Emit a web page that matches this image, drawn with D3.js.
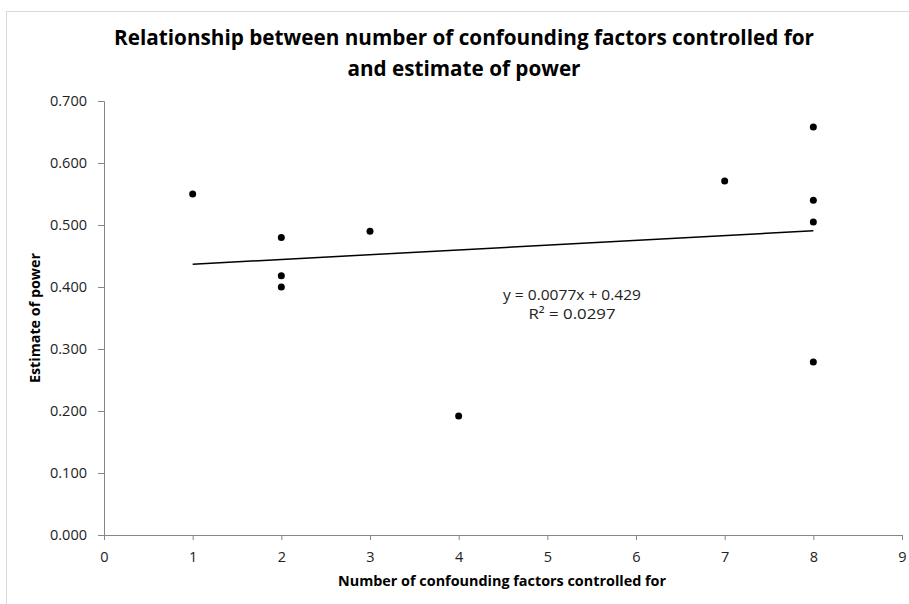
<!DOCTYPE html>
<html>
<head>
<meta charset="utf-8">
<script src="https://cdn.jsdelivr.net/npm/d3@7"></script>
<style>
  body { margin: 0; background: #fff; }
  text { font-family: "Open Sans", "Liberation Sans", sans-serif; }
</style>
</head>
<body>
<script>
// chart values
const factors = [1, 2, 2, 2, 3, 4, 7, 8, 8, 8, 8]
const power = [0.550, 0.480, 0.418, 0.400, 0.490, 0.192, 0.571, 0.658, 0.540, 0.505, 0.279]
const xTicks = [0, 1, 2, 3, 4, 5, 6, 7, 8, 9]
const yTicks = [0, 0.1, 0.2, 0.3, 0.4, 0.5, 0.6, 0.7]
const trend = { slope: 0.0077, intercept: 0.429 }
const trendLabel = ["y = 0.0077x + 0.429", "R² = 0.0297"]
const titleLines = ["Relationship between number of confounding factors controlled for", "and estimate of power"]

const width = 909, height = 604
const plotLeft = 104, plotRight = 902, plotTop = 101, plotBottom = 535

const xScale = d3.scaleLinear().domain([0, 9]).range([plotLeft, plotRight])
const yScale = d3.scaleLinear().domain([0, 0.7]).range([plotBottom, plotTop])

const svg = d3.select("body").append("svg")
  .attr("width", width)
  .attr("height", height)

// chart outline
svg.append("rect")
  .attr("x", 6.5).attr("y", 11.5)
  .attr("width", width).attr("height", height)
  .attr("fill", "none")
  .attr("stroke", "#d9d9d9")

// title
svg.selectAll(".title")
  .data(titleLines)
  .enter()
  .append("text")
  .attr("class", "title")
  .attr("x", 464)
  .attr("y", (d, i) => 45 + i * 31)
  .attr("text-anchor", "middle")
  .attr("font-size", 22)
  .attr("font-weight", "bold")
  .attr("textLength", (d, i) => i === 0 ? 700 : 233)
  .attr("lengthAdjust", "spacingAndGlyphs")
  .text(d => d)

// axes
const xAxis = svg.append("g")
  .attr("transform", `translate(0,${plotBottom})`)
  .call(d3.axisBottom(xScale).tickValues(xTicks).tickFormat(d3.format("d")).tickSize(5).tickPadding(12))
const yAxis = svg.append("g")
  .attr("transform", `translate(${plotLeft},0)`)
  .call(d3.axisLeft(yScale).tickValues(yTicks).tickFormat(d3.format(".3f")).tickSize(6).tickPadding(11))

;[xAxis, yAxis].forEach(ax => {
  ax.select(".domain").attr("stroke", "#868686")
  ax.selectAll(".tick line").attr("stroke", "#868686")
  ax.selectAll(".tick text")
    .attr("font-size", 14.5)
    .attr("fill", "#222")
    .style("font-family", "'Open Sans', sans-serif")
})

// axis titles
svg.append("text")
  .attr("x", 502).attr("y", 586)
  .attr("text-anchor", "middle")
  .attr("font-size", 14.5)
  .attr("font-weight", "bold")
  .attr("textLength", 328)
  .attr("lengthAdjust", "spacingAndGlyphs")
  .text("Number of confounding factors controlled for")

svg.append("text")
  .attr("transform", "translate(40,318) rotate(-90)")
  .attr("text-anchor", "middle")
  .attr("font-size", 14.5)
  .attr("font-weight", "bold")
  .attr("textLength", 130)
  .attr("lengthAdjust", "spacingAndGlyphs")
  .text("Estimate of power")

// linear trend line over the data range
const xr = d3.extent(factors)
svg.append("line")
  .attr("x1", xScale(xr[0]))
  .attr("y1", yScale(trend.slope * xr[0] + trend.intercept))
  .attr("x2", xScale(xr[1]))
  .attr("y2", yScale(trend.slope * xr[1] + trend.intercept))
  .attr("stroke", "#000")
  .attr("stroke-width", 1.5)

// points
svg.selectAll("circle")
  .data(factors.map((f, i) => ({ f: f, p: power[i] })))
  .enter()
  .append("circle")
  .attr("cx", d => xScale(d.f))
  .attr("cy", d => yScale(d.p))
  .attr("r", 3.5)
  .attr("fill", "#000")

// equation label
svg.selectAll(".eq")
  .data(trendLabel)
  .enter()
  .append("text")
  .attr("class", "eq")
  .attr("x", 572)
  .attr("y", (d, i) => 300 + i * 19)
  .attr("text-anchor", "middle")
  .attr("font-size", 15)
  .attr("fill", "#222")
  .attr("textLength", (d, i) => i === 0 ? 138 : 87)
  .attr("lengthAdjust", "spacingAndGlyphs")
  .text(d => d)
</script>
</body>
</html>
